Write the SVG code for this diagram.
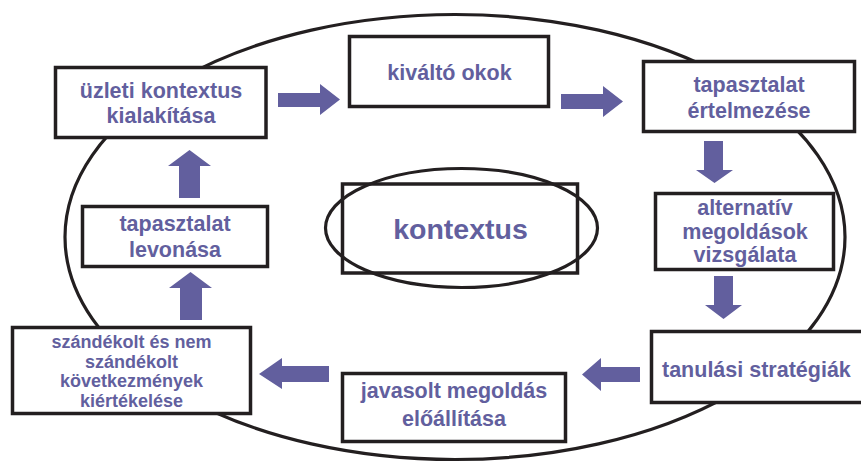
<svg xmlns="http://www.w3.org/2000/svg" width="861" height="463" viewBox="0 0 861 463">
<style>
.bx{fill:#fff;stroke:#231f20;stroke-width:3.5}
.el{fill:none;stroke:#231f20;stroke-width:3.2}
.t{font-family:"Liberation Sans",Arial,Helvetica,sans-serif;font-weight:bold;font-size:21.5px;fill:#625f9e;text-anchor:middle}
.s{font-size:18px}
.ar{fill:#625f9e}
</style>
<rect width="861" height="463" fill="#fff"/>
<ellipse class="el" cx="455" cy="237" rx="390" ry="222.5"/>
<g id="connectors">
<polygon class="ar" points="278,93 320,93 320,84 340,99.5 320,115 320,107 278,107"/>
<polygon class="ar" points="561,94 603,94 603,86 623,101.5 603,117 603,109 561,109"/>
<polygon class="ar" points="704,141 723,141 723,170 733,170 714.5,183 696,170 704,170"/>
<polygon class="ar" points="714,276 733,276 733,305 742,305 723.5,319 705,305 714,305"/>
<polygon class="ar" points="640,367 601,367 601,358 582,374.5 601,391 601,382 640,382"/>
<polygon class="ar" points="329,366 282,366 282,358 259,374 282,389 282,382 329,382"/>
<polygon class="ar" points="180,320 180,288 169,288 190.5,272 212,288 202,288 202,320"/>
<polygon class="ar" points="179,198 179,166 168,166 189.5,150 211,166 200,166 200,198"/>
</g>
<g id="n1"><rect class="bx" x="55.5" y="67.5" width="210.5" height="70"/>
<text class="t" x="161" y="98">üzleti kontextus</text><text class="t" x="161" y="123">kialakítása</text></g>
<g id="n2"><rect class="bx" x="349.5" y="36.5" width="199" height="70"/>
<text class="t" x="449.5" y="80">kiváltó okok</text></g>
<g id="n3"><rect class="bx" x="643.5" y="61.5" width="211" height="70"/>
<text class="t" x="749" y="92">tapasztalat</text><text class="t" x="749" y="118">értelmezése</text></g>
<g id="n4"><rect class="bx" x="655.5" y="193.5" width="178" height="76"/>
<text class="t" x="745" y="215">alternatív</text><text class="t" x="745" y="239">megoldások</text><text class="t" x="745" y="262">vizsgálata</text></g>
<g id="n5"><rect class="bx" x="651.5" y="331.5" width="215" height="71"/>
<text class="t" x="662" y="377" style="text-anchor:start">tanulási stratégiák</text></g>
<g id="n6"><rect class="bx" x="342.5" y="373.5" width="223" height="68"/>
<text class="t" x="454" y="398">javasolt megoldás</text><text class="t" x="454" y="426">előállítása</text></g>
<g id="n7"><rect class="bx" x="12.5" y="327.5" width="238" height="86"/>
<text class="t s" x="131.5" y="348">szándékolt és nem</text><text class="t s" x="131.5" y="367.5">szándékolt</text><text class="t s" x="131.5" y="387">következmények</text><text class="t s" x="131.5" y="406.5">kiértékelése</text></g>
<g id="n8"><rect class="bx" x="82.5" y="206.5" width="185" height="60"/>
<text class="t" x="175" y="231">tapasztalat</text><text class="t" x="175" y="257">levonása</text></g>
<g id="n9"><rect class="bx" x="342.5" y="184" width="235" height="89"/>
<ellipse class="el" cx="461.5" cy="228" rx="136" ry="59.5"/>
<text class="t" x="460.5" y="239" style="font-size:28.5px">kontextus</text></g>
</svg>
